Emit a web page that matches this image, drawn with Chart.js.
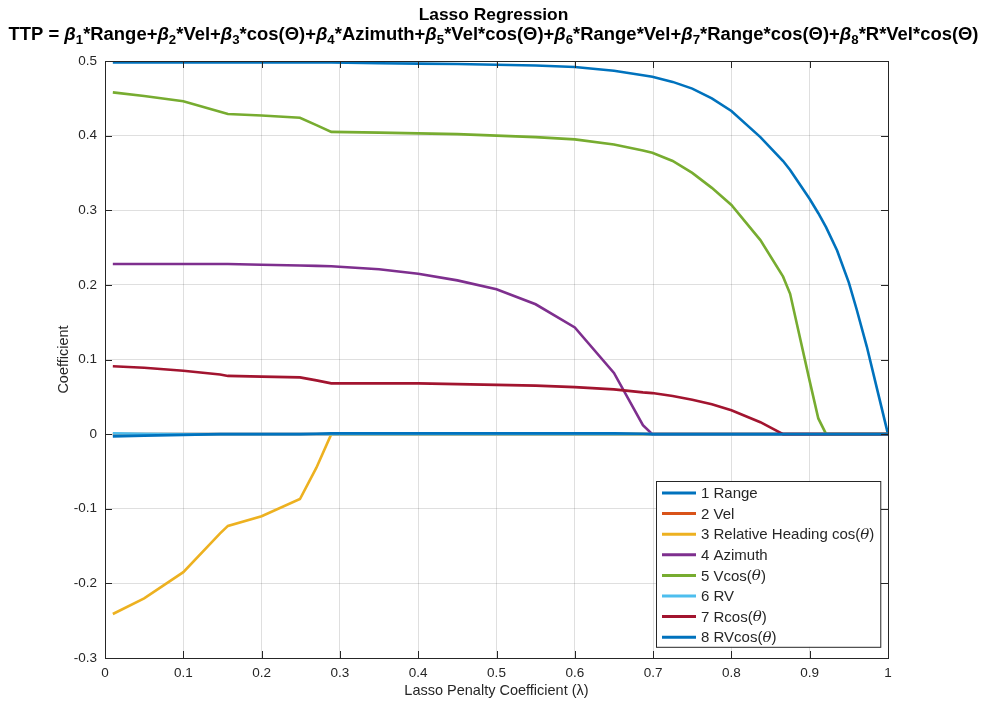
<!DOCTYPE html>
<html>
<head>
<meta charset="utf-8">
<script src="https://cdn.jsdelivr.net/npm/chart.js@4/dist/chart.umd.min.js"></script>
<style>
  html, body { margin: 0; padding: 0; background: #fff; }
  #wrap { width: 987px; height: 708px; }
</style>
</head>
<body>
<div id="wrap"><canvas id="lasso"></canvas></div>
<script>
// penalty values (x) and coefficient paths
const lambda = [0.01, 0.05, 0.1, 0.147, 0.157, 0.2, 0.249, 0.27, 0.289, 0.35, 0.4, 0.45, 0.5, 0.55, 0.6, 0.65, 0.687, 0.699, 0.725, 0.75, 0.775, 0.8, 0.837, 0.866, 0.875, 0.9, 0.911, 0.921, 0.935, 0.95, 0.96, 0.973, 0.985, 1.0];

const range   = [0.498, 0.498, 0.498, 0.498, 0.498, 0.498, 0.498, 0.498, 0.498, 0.497, 0.4965, 0.496, 0.495, 0.494, 0.492, 0.487, 0.481, 0.479, 0.472, 0.463, 0.450, 0.433, 0.398, 0.366, 0.354, 0.315, 0.296, 0.277, 0.246, 0.203, 0.167, 0.117, 0.065, 0];
const vel     = [0, 0, 0, 0, 0, 0, 0, 0, 0, 0, 0, 0, 0, 0, 0, 0, 0, 0, 0, 0, 0, 0, 0, 0, 0, 0, 0, 0, 0, 0, 0, 0, 0, 0];
const relHead = [-0.241, -0.220, -0.185, -0.133, -0.123, -0.110, -0.087, -0.045, 0, 0, 0, 0, 0, 0, 0, 0, 0, 0, 0, 0, 0, 0, 0, 0, 0, 0, 0, 0, 0, 0, 0, 0, 0, 0];
const azimuth = [0.228, 0.228, 0.228, 0.228, 0.228, 0.227, 0.226, 0.2255, 0.225, 0.221, 0.215, 0.206, 0.194, 0.174, 0.143, 0.082, 0.012, 0, 0, 0, 0, 0, 0, 0, 0, 0, 0, 0, 0, 0, 0, 0, 0, 0];
const vcos    = [0.458, 0.453, 0.446, 0.432, 0.429, 0.427, 0.424, 0.414, 0.405, 0.404, 0.403, 0.402, 0.400, 0.398, 0.395, 0.388, 0.380, 0.377, 0.366, 0.350, 0.330, 0.307, 0.260, 0.211, 0.188, 0.071, 0.021, 0, 0, 0, 0, 0, 0, 0];
const rv      = [0.001, 0.0005, 0, 0, 0, 0, 0, 0, 0, 0, 0, 0, 0, 0, 0, 0, 0, 0, 0, 0, 0, 0, 0, 0, 0, 0, 0, 0, 0, 0, 0, 0, 0, 0];
const rcos    = [0.091, 0.089, 0.085, 0.080, 0.078, 0.077, 0.076, 0.072, 0.068, 0.068, 0.068, 0.067, 0.066, 0.065, 0.063, 0.060, 0.056, 0.055, 0.051, 0.046, 0.040, 0.032, 0.016, 0, 0, 0, 0, 0, 0, 0, 0, 0, 0, 0];
const rvcos   = [-0.003, -0.002, -0.001, 0, 0, 0, 0, 0.0005, 0.001, 0.001, 0.001, 0.001, 0.001, 0.001, 0.001, 0.001, 0.0005, 0, 0, 0, 0, 0, 0, 0, 0, 0, 0, 0, 0, 0, 0, 0, 0, 0];

const seriesNames = ['1 Range', '2 Vel', '3 Relative Heading cos(θ)', '4 Azimuth', '5 Vcos(θ)', '6 RV', '7 Rcos(θ)', '8 RVcos(θ)'];
const seriesData = [range, vel, relHead, azimuth, vcos, rv, rcos, rvcos];
const seriesColors = ['#0072BD', '#D95319', '#EDB120', '#7E2F8E', '#77AC30', '#4DBEEE', '#A2142F', '#0072BD'];

const xTicks = [0, 0.1, 0.2, 0.3, 0.4, 0.5, 0.6, 0.7, 0.8, 0.9, 1];
const yTicks = [-0.3, -0.2, -0.1, 0, 0.1, 0.2, 0.3, 0.4, 0.5];

const titleLine1 = 'Lasso Regression';
const titleLine2 = 'TTP = β1*Range+β2*Vel+β3*cos(Θ)+β4*Azimuth+β5*Vel*cos(Θ)+β6*Range*Vel+β7*Range*cos(Θ)+β8*R*Vel*cos(Θ)';

const ink = '#262626';
const sans = '"Liberation Sans", Arial, Helvetica, sans-serif';

// title with subscripted beta indices
const titlePlugin = {
    id: 'matTitle',
    afterDraw(chart) {
        const ctx = chart.ctx;
        const cx = chart.width / 2;

        // split into pieces: normal text, beta, subscript digit
        const parts = [];
        let buf = '';
        for (let i = 0; i < titleLine2.length; i++) {
            const ch = titleLine2[i];
            if (ch === 'β') {
                if (buf) parts.push({ t: buf, k: 'n' });
                buf = '';
                parts.push({ t: 'β', k: 'b' });
                parts.push({ t: titleLine2[i + 1], k: 's' });
                i++;
            } else {
                buf += ch;
            }
        }
        if (buf) parts.push({ t: buf, k: 'n' });

        const size = 17.5;
        const fontFor = k => k === 'b' ? 'italic bold ' + size + 'px ' + sans
            : k === 's' ? 'bold ' + (size * 0.72) + 'px ' + sans
            : 'bold ' + size + 'px ' + sans;
        ctx.save();
        let total = 0;
        parts.forEach(p => { ctx.font = fontFor(p.k); total += ctx.measureText(p.t).width; });
        // squeeze horizontally to the width of the original (condensed) title
        const sx = 970 / total;

        ctx.fillStyle = '#000';
        ctx.textBaseline = 'alphabetic';
        ctx.save();
        ctx.translate(cx, 0);
        ctx.scale(sx, 1);
        ctx.font = 'bold 16.5px ' + sans;
        ctx.textAlign = 'center';
        ctx.fillText(titleLine1, 0, 20);
        ctx.restore();

        ctx.translate(cx - total * sx / 2, 0);
        ctx.scale(sx, 1);
        let x = 0;
        ctx.textAlign = 'left';
        parts.forEach(p => {
            ctx.font = fontFor(p.k);
            ctx.fillText(p.t, x, p.k === 's' ? 44 : 40);
            x += ctx.measureText(p.t).width;
        });
        ctx.restore();
    }
};

// box, inward ticks, and legend inside the axes
const boxPlugin = {
    id: 'matBox',
    afterDatasetsDraw(chart) {
        const ctx = chart.ctx;
        const a = chart.chartArea;
        const xs = chart.scales.x, ys = chart.scales.y;
        ctx.save();
        ctx.strokeStyle = ink;
        ctx.lineWidth = 1;
        ctx.beginPath();
        xTicks.forEach(v => {
            const px = Math.round(xs.getPixelForValue(v)) + 0.5;
            ctx.moveTo(px, a.bottom); ctx.lineTo(px, a.bottom - 7);
            ctx.moveTo(px, a.top); ctx.lineTo(px, a.top + 7);
        });
        yTicks.forEach(v => {
            const py = Math.round(ys.getPixelForValue(v)) + 0.5;
            ctx.moveTo(a.left, py); ctx.lineTo(a.left + 7, py);
            ctx.moveTo(a.right, py); ctx.lineTo(a.right - 7, py);
        });
        ctx.stroke();
        ctx.strokeRect(Math.round(a.left) + 0.5, Math.round(a.top) + 0.5, Math.round(a.right - a.left), Math.round(a.bottom - a.top));

        // legend
        const fs = 15;
        const rowH = 20.6;
        const drawLabel = (txt, x, y, draw) => {
            let w = 0;
            const bits = txt.split('θ');
            bits.forEach((b, i) => {
                ctx.font = fs + 'px ' + sans;
                if (draw) ctx.fillText(b, x + w, y);
                w += ctx.measureText(b).width;
                if (i < bits.length - 1) {
                    ctx.font = 'italic ' + fs + 'px "DejaVu Serif", serif';
                    if (draw) ctx.fillText('θ', x + w, y);
                    w += ctx.measureText('θ').width;
                }
            });
            return w;
        };
        let maxW = 0;
        seriesNames.forEach(n => { maxW = Math.max(maxW, drawLabel(n, 0, 0, false)); });
        const boxW = 6 + 34 + 5 + maxW + 6;
        const boxH = seriesNames.length * rowH + 1;
        const bx = Math.round(a.right - 8 - boxW);
        const by = Math.round(a.bottom - 11 - boxH);
        ctx.fillStyle = '#fff';
        ctx.fillRect(bx, by, boxW, boxH);
        ctx.strokeStyle = ink;
        ctx.strokeRect(bx + 0.5, by + 0.5, boxW, boxH);
        ctx.textBaseline = 'middle';
        seriesNames.forEach((n, i) => {
            const y = by + 12 + i * rowH;
            ctx.strokeStyle = seriesColors[i];
            ctx.lineWidth = 3;
            ctx.beginPath();
            ctx.moveTo(bx + 6, y); ctx.lineTo(bx + 40, y);
            ctx.stroke();
            ctx.fillStyle = ink;
            drawLabel(n, bx + 45, y + 1, true);
        });
        ctx.restore();
    }
};

new Chart(document.getElementById('lasso'), {
    type: 'line',
    data: {
        datasets: seriesNames.map((name, i) => ({
            label: name,
            data: lambda.map((l, j) => ({ x: l, y: seriesData[i][j] })),
            borderColor: seriesColors[i],
            backgroundColor: seriesColors[i],
            borderWidth: 2.6,
            pointRadius: 0,
            tension: 0,
            order: seriesNames.length - i
        }))
    },
    options: {
        responsive: true,
        maintainAspectRatio: false,
        animation: false,
        layout: { padding: { top: 61, right: 99, left: 0, bottom: 0 } },
        plugins: {
            legend: { display: false },
            tooltip: { enabled: false },
            title: { display: false }
        },
        scales: {
            x: {
                type: 'linear',
                min: 0, max: 1,
                afterFit: s => { s.height = 50; },
                afterBuildTicks: s => { s.ticks = xTicks.map(v => ({ value: v })); },
                grid: { color: 'rgba(38,38,38,0.15)', drawTicks: false },
                border: { display: false },
                ticks: {
                    color: ink, padding: 7,
                    font: { family: sans, size: 13.5 },
                    callback: v => String(v)
                },
                title: {
                    display: true,
                    text: 'Lasso Penalty Coefficient (λ)',
                    color: ink,
                    font: { family: sans, size: 14.5 },
                    padding: { top: 2, bottom: 8 }
                }
            },
            y: {
                type: 'linear',
                min: -0.3, max: 0.5,
                afterFit: s => { s.width = 105; },
                afterBuildTicks: s => { s.ticks = yTicks.map(v => ({ value: v })); },
                grid: { color: 'rgba(38,38,38,0.15)', drawTicks: false },
                border: { display: false },
                ticks: {
                    color: ink, padding: 8,
                    font: { family: sans, size: 13.5 },
                    callback: v => String(Math.round(v * 10) / 10)
                },
                title: {
                    display: true,
                    text: 'Coefficient',
                    color: ink,
                    font: { family: sans, size: 14.5 },
                    padding: { top: 55, bottom: 0 }
                }
            }
        }
    },
    plugins: [titlePlugin, boxPlugin]
});
</script>
</body>
</html>
